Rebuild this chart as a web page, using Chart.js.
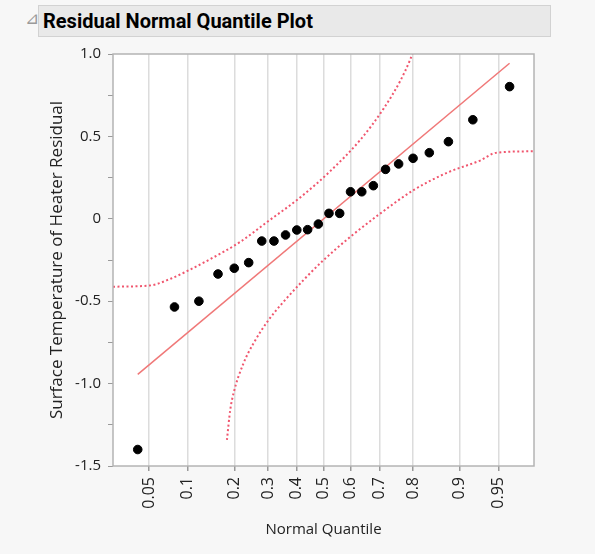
<!DOCTYPE html>
<html>
<head>
<meta charset="utf-8">
<script src="https://cdn.jsdelivr.net/npm/chart.js@4/dist/chart.umd.min.js"></script>
<style>
  html, body { margin: 0; padding: 0; background: #f7f7f7; }
  #wrap { position: relative; width: 595px; height: 554px; }
  #bar {
    position: absolute; left: 38px; top: 5px; width: 513px; height: 32px;
    background: #e9e9e9; border: 1px solid #d2d2d2;
    font: bold 20px Roboto, sans-serif; color: #000;
    line-height: 31px; padding-left: 4px; box-sizing: border-box;
  }
  #tri {
    position: absolute; left: 25px; top: 8px; font: 17px "DejaVu Sans"; color: #9a9a9a;
  }
  canvas { position: absolute; left: 0; top: 0; }
</style>
</head>
<body>
<div id="wrap">
  <div id="tri">⊿</div>
  <div id="bar">Residual Normal Quantile Plot</div>
  <canvas id="qq" width="595" height="554"></canvas>
</div>
<script>
// normal quantile (z) of each sorted residual
var quantiles = [-1.751, -1.405, -1.175, -0.995, -0.842, -0.706, -0.583, -0.468, -0.359, -0.253, -0.151, -0.050,
                 0.050, 0.151, 0.253, 0.359, 0.468, 0.583, 0.706, 0.842, 0.995, 1.175, 1.405, 1.751];
var residuals = [-1.40, -0.535, -0.50, -0.335, -0.30, -0.266, -0.135, -0.135, -0.098, -0.068, -0.066, -0.032,
                 0.033, 0.033, 0.164, 0.164, 0.201, 0.300, 0.333, 0.367, 0.401, 0.468, 0.601, 0.802];

// fitted normal line, ends
var fitX = [-1.751, 1.751];
var fitY = [-0.944, 0.944];

// confidence bands (dotted)
var upperX = [-1.984, -1.640, -1.446, -1.289, -1.069, -0.786, -0.534, -0.220, 0.063, 0.346, 0.566, 0.724, 0.811, 0.870];
var upperY = [-0.412, -0.405, -0.365, -0.318, -0.245, -0.140, -0.020, 0.130, 0.290, 0.480, 0.670, 0.840, 0.960, 1.060];
var lowerX = [-0.911, -0.880, -0.849, -0.755, -0.660, -0.519, -0.377, -0.189, 0.000, 0.252, 0.535, 0.849, 1.164, 1.478, 1.620, 1.981];
var lowerY = [-1.342, -1.160, -1.059, -0.877, -0.755, -0.614, -0.503, -0.371, -0.250, -0.109, 0.033, 0.175, 0.280, 0.355, 0.400, 0.410];

// probability tick labels and their normal-quantile positions
var probLabels = ['0.05', '0.1', '0.2', '0.3', '0.4', '0.5', '0.6', '0.7', '0.8', '0.9', '0.95'];
var probZ = [-1.645, -1.282, -0.842, -0.524, -0.253, 0, 0.253, 0.524, 0.842, 1.282, 1.645];

function pairs(xs, ys) {
	return xs.map(function(x, i) { return {x: x, y: ys[i]}; });
}

var plotBox = {
	id: 'plotBox',
	beforeDraw: function(chart) {
		var a = chart.chartArea, ctx = chart.ctx;
		ctx.save();
		ctx.fillStyle = '#ffffff';
		ctx.fillRect(a.left, a.top, a.right - a.left, a.bottom - a.top);
		ctx.restore();
	},
	afterDatasetsDraw: function(chart) {
		var a = chart.chartArea, ctx = chart.ctx;
		ctx.save();
		ctx.strokeStyle = '#b4b4b4';
		ctx.lineWidth = 1.5;
		ctx.strokeRect(a.left, a.top, a.right - a.left, a.bottom - a.top);
		ctx.restore();
	}
};

window.onload = function() {
	var ctx = document.getElementById('qq').getContext('2d');
	window.qq = new Chart(ctx, {
		type: 'scatter',
		data: {
			datasets: [
				{
					data: pairs(quantiles, residuals),
					backgroundColor: '#000000',
					borderColor: '#000000',
					pointRadius: 4.3,
					showLine: false
				},
				{
					data: pairs(fitX, fitY),
					showLine: true,
					borderColor: '#f07878',
					borderWidth: 1.5,
					pointRadius: 0
				},
				{
					data: pairs(upperX, upperY),
					showLine: true,
					borderColor: '#f0566e',
					borderWidth: 2,
					borderDash: [2, 2.5],
					cubicInterpolationMode: 'monotone',
					pointRadius: 0,
					clip: 0
				},
				{
					data: pairs(lowerX, lowerY),
					showLine: true,
					borderColor: '#f0566e',
					borderWidth: 2,
					borderDash: [2, 2.5],
					cubicInterpolationMode: 'monotone',
					pointRadius: 0,
					clip: 0
				}
			]
		},
		options: {
			responsive: false,
			animation: false,
			layout: {padding: {top: 54, right: 61, left: 0, bottom: 0}},
			plugins: {
				legend: {display: false},
				tooltip: {enabled: false}
			},
			scales: {
				x: {
					type: 'linear',
					min: -1.984,
					max: 1.981,
					afterBuildTicks: function(scale) {
						scale.ticks = probZ.map(function(z) { return {value: z}; });
					},
					afterFit: function(scale) { scale.height = 88; },
					ticks: {
						autoSkip: false,
						minRotation: 90,
						maxRotation: 90,
						padding: 6,
						color: '#222222',
						font: {family: '"Open Sans", sans-serif', size: 16},
						callback: function(value) {
							var i = probZ.indexOf(value);
							return i < 0 ? '' : probLabels[i];
						}
					},
					grid: {
						color: '#dcdcdc',
						lineWidth: 1.5,
						tickLength: 5,
						tickColor: '#9a9a9a'
					},
					border: {display: false},
					title: {
						display: true,
						text: 'Normal Quantile',
						color: '#222222',
						font: {family: '"Open Sans", sans-serif', size: 15},
						padding: {top: 0, bottom: 15}
					}
				},
				y: {
					min: -1.5,
					max: 1.0,
					afterFit: function(scale) { scale.width = 113; },
					ticks: {
						stepSize: 0.25,
						padding: 7,
						color: '#222222',
						font: {family: '"Open Sans", sans-serif', size: 15},
						callback: function(value) {
							var v = Math.round(value * 100) / 100;
							if (Math.abs(v * 2 - Math.round(v * 2)) > 1e-6) return '';
							return v === 0 ? '0' : v.toFixed(1);
						}
					},
					grid: {
						drawOnChartArea: false,
						tickLength: 5,
						tickColor: '#9a9a9a'
					},
					border: {display: false},
					title: {
						display: true,
						text: 'Surface Temperature of Heater Residual',
						color: '#222222',
						font: {family: '"Open Sans", sans-serif', size: 17},
						padding: {top: 47, bottom: 0}
					}
				}
			}
		},
		plugins: [plotBox]
	});
};
</script>
</body>
</html>
